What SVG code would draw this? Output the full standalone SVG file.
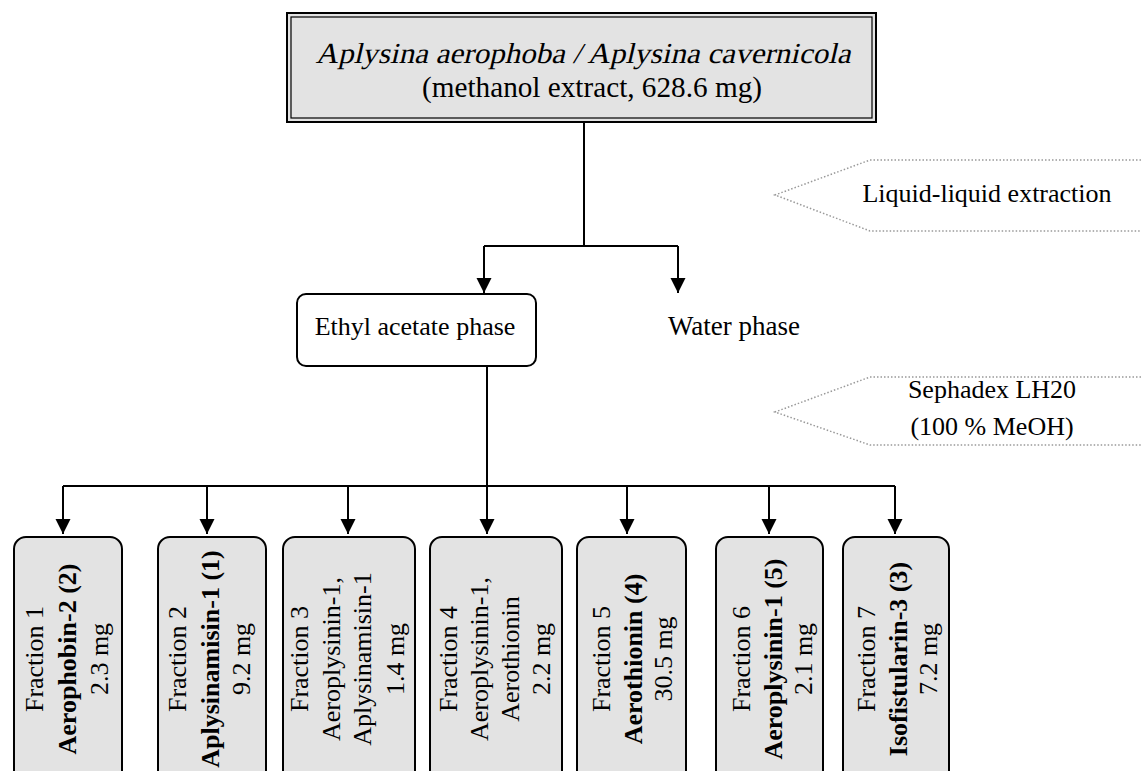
<svg xmlns="http://www.w3.org/2000/svg" width="1141" height="771" viewBox="0 0 1141 771">
<style>
text{font-family:"Liberation Serif","Times New Roman",serif;fill:#000}
.t26{font-size:26px}
.b{font-weight:bold}
.frac{fill:#e3e3e3;stroke:#000;stroke-width:2}
.conn{fill:none;stroke:#000;stroke-width:2}
.callout{fill:none;stroke:#999;stroke-width:1.5;stroke-dasharray:1.5 2}
</style>
<defs>
<marker id="arr" markerUnits="userSpaceOnUse" markerWidth="16" markerHeight="16" viewBox="0 0 16 16" refX="8" refY="15" orient="0" overflow="visible">
<path d="M0.5,0 L15.5,0 L8,15 Z" fill="#000"/>
</marker>
</defs>
<rect width="1141" height="771" fill="#fff"/>

<g id="connectors">
<path class="conn" d="M584,122 V246"/>
<path class="conn" d="M484,246 H678"/>
<path class="conn" d="M484,246 V293" marker-end="url(#arr)"/>
<path class="conn" d="M678,246 V293" marker-end="url(#arr)"/>
<path class="conn" d="M487,366 V486"/>
<path class="conn" d="M63,486 H895"/>
<path class="conn" d="M63,486 V534" marker-end="url(#arr)"/>
<path class="conn" d="M207,486 V534" marker-end="url(#arr)"/>
<path class="conn" d="M348,486 V534" marker-end="url(#arr)"/>
<path class="conn" d="M487,486 V534" marker-end="url(#arr)"/>
<path class="conn" d="M627,486 V534" marker-end="url(#arr)"/>
<path class="conn" d="M769,486 V534" marker-end="url(#arr)"/>
<path class="conn" d="M895,486 V534" marker-end="url(#arr)"/>
</g>

<g id="source">
<rect x="287" y="13" width="589" height="109" fill="#e3e3e3" stroke="#000" stroke-width="2"/>
<rect x="291" y="17" width="581" height="101" fill="none" stroke="#000" stroke-width="1.2"/>
<g transform="translate(583,63) skewX(-13)">
<text x="0" y="0" font-size="29" text-anchor="middle" textLength="535" lengthAdjust="spacingAndGlyphs">Aplysina aerophoba / Aplysina cavernicola</text>
</g>
<text x="592" y="97" font-size="29" text-anchor="middle" textLength="340" lengthAdjust="spacingAndGlyphs">(methanol extract, 628.6 mg)</text>
</g>

<g id="step-lle">
<path class="callout" d="M1141,160 H870 L775,195 L870,231 H1141"/>
<text class="t26" x="987" y="202" text-anchor="middle">Liquid-liquid extraction</text>
</g>

<g id="ethyl">
<rect x="297" y="294" width="239" height="72" rx="9" fill="#fff" stroke="#000" stroke-width="2"/>
<text class="t26" x="415" y="335" text-anchor="middle">Ethyl acetate phase</text>
</g>

<g id="water">
<text x="668" y="335" font-size="27">Water phase</text>
</g>

<g id="step-sephadex">
<path class="callout" d="M1141,377 H870 L775,412 L870,445 H1141"/>
<text class="t26" x="992" y="398" text-anchor="middle">Sephadex LH20</text>
<text class="t26" x="992" y="435" text-anchor="middle">(100 % MeOH)</text>
</g>

<g id="fraction1">
<rect class="frac" x="14" y="537" width="108" height="250" rx="12"/>
<g transform="translate(0,659) rotate(-90)">
<text class="t26" text-anchor="middle" x="0" y="43">Fraction 1</text>
<text class="t26 b" text-anchor="middle" x="0" y="76">Aerophobin-2 (2)</text>
<text class="t26" text-anchor="middle" x="0" y="108">2.3 mg</text>
</g>
</g>

<g id="fraction2">
<rect class="frac" x="158" y="537" width="108" height="250" rx="12"/>
<g transform="translate(0,659) rotate(-90)">
<text class="t26" text-anchor="middle" x="0" y="186">Fraction 2</text>
<text class="t26 b" text-anchor="middle" x="0" y="219">Aplysinamisin-1 (1)</text>
<text class="t26" text-anchor="middle" x="0" y="250">9.2 mg</text>
</g>
</g>

<g id="fraction3">
<rect class="frac" x="283" y="537" width="132" height="250" rx="12"/>
<g transform="translate(0,659) rotate(-90)">
<text class="t26" text-anchor="middle" x="0" y="308">Fraction 3</text>
<text class="t26" text-anchor="middle" x="0" y="340">Aeroplysinin-1,</text>
<text class="t26" text-anchor="middle" x="0" y="371">Aplysinamisin-1</text>
<text class="t26" text-anchor="middle" x="0" y="404">1.4 mg</text>
</g>
</g>

<g id="fraction4">
<rect class="frac" x="430" y="537" width="132" height="250" rx="12"/>
<g transform="translate(0,659) rotate(-90)">
<text class="t26" text-anchor="middle" x="0" y="457">Fraction 4</text>
<text class="t26" text-anchor="middle" x="0" y="488">Aeroplysinin-1,</text>
<text class="t26" text-anchor="middle" x="0" y="519">Aerothionin</text>
<text class="t26" text-anchor="middle" x="0" y="550">2.2 mg</text>
</g>
</g>

<g id="fraction5">
<rect class="frac" x="577" y="537" width="109" height="250" rx="12"/>
<g transform="translate(0,659) rotate(-90)">
<text class="t26" text-anchor="middle" x="0" y="610">Fraction 5</text>
<text class="t26 b" text-anchor="middle" x="0" y="642">Aerothionin (4)</text>
<text class="t26" text-anchor="middle" x="0" y="672">30.5 mg</text>
</g>
</g>

<g id="fraction6">
<rect class="frac" x="716" y="537" width="107" height="250" rx="12"/>
<g transform="translate(0,659) rotate(-90)">
<text class="t26" text-anchor="middle" x="0" y="750">Fraction 6</text>
<text class="t26 b" text-anchor="middle" x="0" y="782">Aeroplysinin-1 (5)</text>
<text class="t26" text-anchor="middle" x="0" y="812">2.1 mg</text>
</g>
</g>

<g id="fraction7">
<rect class="frac" x="843" y="537" width="106" height="250" rx="12"/>
<g transform="translate(0,659) rotate(-90)">
<text class="t26" text-anchor="middle" x="0" y="875">Fraction 7</text>
<text class="t26 b" text-anchor="middle" x="0" y="907">Isofistularin-3 (3)</text>
<text class="t26" text-anchor="middle" x="0" y="937">7.2 mg</text>
</g>
</g>
</svg>
